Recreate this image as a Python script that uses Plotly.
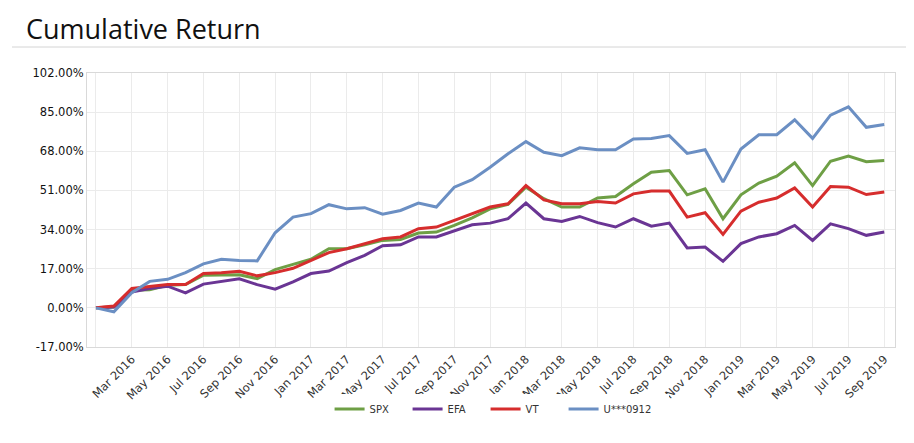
import plotly.graph_objects as go

months = ["Jan", "Feb", "Mar", "Apr", "May", "Jun", "Jul", "Aug", "Sep", "Oct", "Nov", "Dec"]
dates = [f"{months[m]} {y}" for y in range(2016, 2020) for m in range(12)][:45]  # Jan 2016 .. Sep 2019

spx = [0.0, 0.4, 7.7, 7.9, 9.8, 10.1, 14.2, 14.4, 14.4, 12.7, 16.6, 18.9, 21.1, 25.7, 25.7,
       27.4, 29.3, 29.7, 32.5, 32.9, 35.8, 39.1, 43.0, 44.9, 52.4, 47.4, 43.8, 43.8, 47.7, 48.4,
       53.9, 58.9, 59.6, 49.1, 51.7, 38.7, 49.1, 54.2, 57.2, 63.0, 53.1, 63.7, 65.9, 63.5, 64.0]
efa = [0.0, 0.4, 6.9, 8.4, 9.4, 6.5, 10.3, 11.3, 12.6, 10.1, 8.1, 11.3, 14.9, 16.0, 19.6,
       22.8, 27.0, 27.4, 30.8, 30.8, 33.6, 36.1, 36.8, 38.7, 45.5, 38.7, 37.5, 39.7, 37.0, 35.1,
       38.7, 35.5, 36.8, 26.0, 26.4, 20.2, 27.9, 30.8, 32.2, 35.8, 29.3, 36.5, 34.4, 31.5, 32.9]
vt = [0.0, 0.8, 8.4, 9.4, 10.1, 10.1, 14.9, 15.2, 15.9, 13.9, 15.3, 17.2, 20.6, 24.0, 25.7,
      27.9, 30.0, 30.8, 34.4, 35.1, 38.0, 40.9, 43.8, 45.2, 53.1, 46.9, 45.2, 45.2, 46.2, 45.5,
      49.5, 50.7, 50.7, 39.4, 41.3, 31.9, 42.0, 45.9, 47.7, 52.1, 43.8, 52.7, 52.4, 49.2, 50.3]
acct = [0.0, -1.7, 6.6, 11.5, 12.4, 15.3, 19.1, 21.1, 20.6, 20.4, 32.6, 39.4, 40.9, 44.8, 43.0,
        43.5, 40.7, 42.3, 45.5, 43.8, 52.4, 55.7, 61.1, 66.9, 72.2, 67.6, 66.1, 69.5, 68.7, 68.7,
        73.3, 73.6, 74.8, 67.1, 68.7, 54.6, 69.0, 75.2, 75.2, 81.7, 73.6, 83.7, 87.3, 78.4, 79.6]

series_names = ["SPX", "EFA", "VT", "U***0912"]
series_values = [spx, efa, vt, acct]
colors = ["#6e9f45", "#6a3594", "#d62d2d", "#6b8fc3"]
legend_widths = [33, 33, 33, 60]

y_ticks = [-17, 0, 17, 34, 51, 68, 85, 102]
x_tickvals = dates[::2]
x_ticktext = [""] + x_tickvals[1:]

W, H = 906, 435  # page body adds an 8px margin
ML, MT, PW, PH = 79, 65, 808, 274
fig = go.Figure()
for name, vals, col, lw in zip(series_names, series_values, colors, legend_widths):
    fig.add_trace(go.Scatter(x=dates, y=vals, name=name, mode="lines",
                             line=dict(color=col, width=3), legendwidth=lw))

fig.update_layout(
    width=W, height=H,
    margin=dict(l=ML, r=W - ML - PW, t=MT, b=H - MT - PH, autoexpand=False),
    paper_bgcolor="white", plot_bgcolor="white",
    legend=dict(orientation="h", x=0.51, xanchor="center", y=-0.226, yanchor="middle",
                font=dict(family="DejaVu Sans", size=10, color="#333"),
                entrywidthmode="pixels", itemwidth=30),
    showlegend=True,
)
fig.add_annotation(text="Cumulative Return", xref="paper", yref="paper",
                   x=(17 - ML) / PW, xanchor="left", y=(MT + PH - 1) / PH, yanchor="top",
                   showarrow=False, borderpad=0,
                   font=dict(family="Open Sans", size=27, color="#111"))
fig.update_xaxes(type="category", range=[-0.5, 44.6], tickvals=x_tickvals, ticktext=x_ticktext,
                 tickangle=-45, showgrid=True, gridcolor="#ebebeb", gridwidth=1,
                 showline=True, linecolor="#d9d9d9", mirror=True, ticks="", automargin=False,
                 tickfont=dict(family="DejaVu Sans", size=11.5, color="#333"))
fig.update_yaxes(range=[-17, 102], tickvals=y_ticks,
                 ticktext=[f"{v:.2f}%" for v in y_ticks], automargin=False,
                 showgrid=True, gridcolor="#ebebeb", gridwidth=1, zeroline=False,
                 showline=True, linecolor="#d9d9d9", mirror=True, ticks="",
                 tickfont=dict(family="DejaVu Sans", size=11.5, color="#111"))
fig.add_shape(type="line", xref="paper", yref="paper",
              x0=(12 - 87) / PW, x1=(920 - 87) / PW, y0=(347 - 47) / PH, y1=(347 - 47) / PH,
              line=dict(color="#d4d4d4", width=1))

fig.write_html("out.html")
